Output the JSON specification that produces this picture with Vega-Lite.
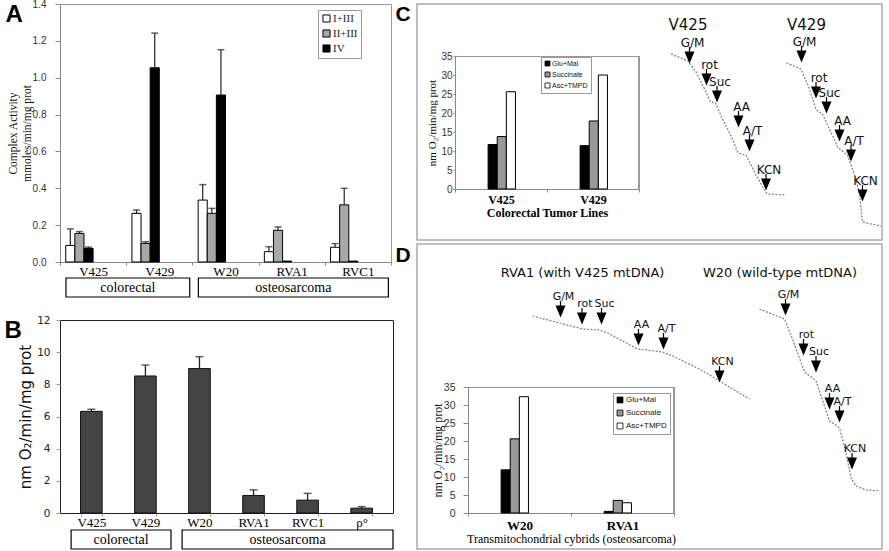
{
  "$schema": "https://vega.github.io/schema/vega-lite/v6.json",
  "background": "white",
  "padding": {"left": 3, "top": -2, "right": 3, "bottom": 0},
  "config": {"view": {"stroke": null}, "font": "Liberation Sans", "axis": {"labelOverlap": false}},
  "datasets": {
    "complexes": [
      {"cell": "V425", "complex": "I+III", "value": 0.09, "hi": 0.18},
      {"cell": "V425", "complex": "II+III", "value": 0.155, "hi": 0.165},
      {"cell": "V425", "complex": "IV", "value": 0.074, "hi": 0.081},
      {"cell": "V429", "complex": "I+III", "value": 0.264, "hi": 0.282},
      {"cell": "V429", "complex": "II+III", "value": 0.101, "hi": 0.11},
      {"cell": "V429", "complex": "IV", "value": 1.054, "hi": 1.242},
      {"cell": "W20", "complex": "I+III", "value": 0.336, "hi": 0.42},
      {"cell": "W20", "complex": "II+III", "value": 0.264, "hi": 0.291},
      {"cell": "W20", "complex": "IV", "value": 0.906, "hi": 1.152},
      {"cell": "RVA1", "complex": "I+III", "value": 0.056, "hi": 0.083},
      {"cell": "RVA1", "complex": "II+III", "value": 0.172, "hi": 0.19},
      {"cell": "RVA1", "complex": "IV", "value": 0.005, "hi": 0.005},
      {"cell": "RVC1", "complex": "I+III", "value": 0.08, "hi": 0.1},
      {"cell": "RVC1", "complex": "II+III", "value": 0.31, "hi": 0.4},
      {"cell": "RVC1", "complex": "IV", "value": 0.005, "hi": 0.005}
    ],
    "respiration": [
      {"cell": "V425", "rate": 6.32, "hi": 6.45},
      {"cell": "V429", "rate": 8.52, "hi": 9.2},
      {"cell": "W20", "rate": 8.98, "hi": 9.72},
      {"cell": "RVA1", "rate": 1.09, "hi": 1.44},
      {"cell": "RVC1", "rate": 0.8, "hi": 1.22},
      {"cell": "ρ°", "rate": 0.3, "hi": 0.4}
    ],
    "a_groups": [
      {"group": "colorectal", "first": "V425", "last": "V429"},
      {"group": "osteosarcoma", "first": "W20", "last": "RVC1"}
    ],
    "b_groups": [
      {"group": "colorectal", "first": "V425", "last": "V429"},
      {"group": "osteosarcoma", "first": "W20", "last": "ρ°"}
    ],
    "c_rates": [
      {"line": "V425", "substrate": "Glu+Mal", "rate": 11.7},
      {"line": "V425", "substrate": "Succinate", "rate": 13.8},
      {"line": "V425", "substrate": "Asc+TMPD", "rate": 25.6},
      {"line": "V429", "substrate": "Glu+Mal", "rate": 11.4},
      {"line": "V429", "substrate": "Succinate", "rate": 17.9},
      {"line": "V429", "substrate": "Asc+TMPD", "rate": 30.0}
    ],
    "d_rates": [
      {"line": "W20", "substrate": "Glu+Mal", "rate": 12.0},
      {"line": "W20", "substrate": "Succinate", "rate": 20.6},
      {"line": "W20", "substrate": "Asc+TMPD", "rate": 32.3},
      {"line": "RVA1", "substrate": "Glu+Mal", "rate": 0.45},
      {"line": "RVA1", "substrate": "Succinate", "rate": 3.5},
      {"line": "RVA1", "substrate": "Asc+TMPD", "rate": 2.85}
    ],
    "c_traces": [
      {"trace": "V425", "t": 508, "o2": 186}, {"trace": "V425", "t": 542, "o2": 179},
      {"trace": "V425", "t": 558, "o2": 168}, {"trace": "V425", "t": 578, "o2": 148},
      {"trace": "V425", "t": 585, "o2": 140}, {"trace": "V425", "t": 588, "o2": 138},
      {"trace": "V425", "t": 597, "o2": 137}, {"trace": "V425", "t": 611, "o2": 121},
      {"trace": "V425", "t": 631, "o2": 101}, {"trace": "V425", "t": 641, "o2": 88},
      {"trace": "V425", "t": 648, "o2": 86}, {"trace": "V425", "t": 658, "o2": 85},
      {"trace": "V425", "t": 678, "o2": 65}, {"trace": "V425", "t": 695, "o2": 50},
      {"trace": "V425", "t": 701, "o2": 46}, {"trace": "V425", "t": 738, "o2": 45},
      {"trace": "V429", "t": 739, "o2": 177}, {"trace": "V429", "t": 768, "o2": 171},
      {"trace": "V429", "t": 785, "o2": 151}, {"trace": "V429", "t": 798, "o2": 131},
      {"trace": "V429", "t": 801, "o2": 129}, {"trace": "V429", "t": 811, "o2": 126},
      {"trace": "V429", "t": 825, "o2": 111}, {"trace": "V429", "t": 841, "o2": 93},
      {"trace": "V429", "t": 848, "o2": 90}, {"trace": "V429", "t": 861, "o2": 85},
      {"trace": "V429", "t": 878, "o2": 61}, {"trace": "V429", "t": 885, "o2": 45},
      {"trace": "V429", "t": 891, "o2": 18}, {"trace": "V429", "t": 898, "o2": 17},
      {"trace": "V429", "t": 928, "o2": 14}
    ],
    "c_events": [
      {"trace": "V425", "event": "G/M", "t": 545, "o2": 183},
      {"trace": "V425", "event": "rot", "t": 579, "o2": 161},
      {"trace": "V425", "event": "Suc", "t": 600, "o2": 144},
      {"trace": "V425", "event": "AA", "t": 643, "o2": 119},
      {"trace": "V425", "event": "A/T", "t": 665, "o2": 95},
      {"trace": "V425", "event": "KCN", "t": 698, "o2": 56},
      {"trace": "V429", "event": "G/M", "t": 769, "o2": 184},
      {"trace": "V429", "event": "rot", "t": 798, "o2": 148},
      {"trace": "V429", "event": "Suc", "t": 819, "o2": 133},
      {"trace": "V429", "event": "AA", "t": 845, "o2": 105},
      {"trace": "V429", "event": "A/T", "t": 868, "o2": 85},
      {"trace": "V429", "event": "KCN", "t": 891, "o2": 45}
    ],
    "c_titles": [
      {"label": "V425", "t": 542, "o2": 215},
      {"label": "V429", "t": 779, "o2": 215}
    ],
    "d_traces": [
      {"trace": "RVA1", "t": 231, "o2": 233}, {"trace": "RVA1", "t": 285, "o2": 226},
      {"trace": "RVA1", "t": 331, "o2": 220}, {"trace": "RVA1", "t": 365, "o2": 219},
      {"trace": "RVA1", "t": 381, "o2": 216}, {"trace": "RVA1", "t": 411, "o2": 208},
      {"trace": "RVA1", "t": 441, "o2": 200}, {"trace": "RVA1", "t": 491, "o2": 197},
      {"trace": "RVA1", "t": 511, "o2": 193}, {"trace": "RVA1", "t": 565, "o2": 180},
      {"trace": "RVA1", "t": 605, "o2": 168}, {"trace": "RVA1", "t": 638, "o2": 158},
      {"trace": "RVA1", "t": 665, "o2": 150},
      {"trace": "W20", "t": 685, "o2": 240}, {"trace": "W20", "t": 735, "o2": 230},
      {"trace": "W20", "t": 751, "o2": 210}, {"trace": "W20", "t": 775, "o2": 177},
      {"trace": "W20", "t": 791, "o2": 171}, {"trace": "W20", "t": 798, "o2": 168},
      {"trace": "W20", "t": 815, "o2": 143}, {"trace": "W20", "t": 825, "o2": 128},
      {"trace": "W20", "t": 835, "o2": 125}, {"trace": "W20", "t": 845, "o2": 121},
      {"trace": "W20", "t": 858, "o2": 96}, {"trace": "W20", "t": 868, "o2": 71},
      {"trace": "W20", "t": 878, "o2": 63}, {"trace": "W20", "t": 898, "o2": 59},
      {"trace": "W20", "t": 925, "o2": 58}
    ],
    "d_events": [
      {"trace": "RVA1", "event": "G/M", "t": 287, "o2": 238},
      {"trace": "RVA1", "event": "rot", "t": 330, "o2": 231},
      {"trace": "RVA1", "event": "Suc", "t": 369, "o2": 231},
      {"trace": "RVA1", "event": "AA", "t": 443, "o2": 210},
      {"trace": "RVA1", "event": "A/T", "t": 493, "o2": 206},
      {"trace": "RVA1", "event": "KCN", "t": 605, "o2": 173},
      {"trace": "W20", "event": "G/M", "t": 737, "o2": 240},
      {"trace": "W20", "event": "rot", "t": 773, "o2": 200},
      {"trace": "W20", "event": "Suc", "t": 798, "o2": 183},
      {"trace": "W20", "event": "AA", "t": 825, "o2": 146},
      {"trace": "W20", "event": "A/T", "t": 845, "o2": 133},
      {"trace": "W20", "event": "KCN", "t": 870, "o2": 86}
    ],
    "d_titles": [
      {"label": "RVA1 (with V425 mtDNA)", "t": 331, "o2": 276},
      {"label": "W20 (wild-type mtDNA)", "t": 726, "o2": 276}
    ]
  },
  "hconcat": [
    {
      "vconcat": [
        {
          "width": 331,
          "height": 258,
          "view": {"stroke": "#999"},
          "layer": [
            {
              "data": {"name": "complexes"},
              "layer": [
                {
                  "mark": {"type": "bar", "stroke": "black", "strokeWidth": 1},
                  "encoding": {
                    "x": {"field": "cell", "type": "nominal", "scale": {"domain": ["V425", "V429", "W20", "RVA1", "RVC1"], "paddingInner": 0, "paddingOuter": 0},
                      "axis": {"title": null, "labelAngle": 0, "labelFont": "Liberation Serif", "labelFontSize": 13, "labelColor": "black", "labelPadding": 0, "tickBand": "extent", "tickSize": 3, "tickColor": "#888", "domainColor": "#888"}},
                    "xOffset": {"field": "complex", "type": "nominal", "scale": {"domain": ["I+III", "II+III", "IV"], "paddingInner": 0, "paddingOuter": 0.63}},
                    "y": {"field": "value", "type": "quantitative", "scale": {"domain": [0, 1.4], "nice": false},
                      "axis": {"values": [0, 0.2, 0.4, 0.6, 0.8, 1.0, 1.2, 1.4], "tickCount": 20, "format": ".1f", "grid": false, "labelOverlap": false, "labelFont": "Liberation Sans", "labelFontSize": 10, "labelColor": "#333", "tickSize": 5, "labelPadding": 9, "tickColor": "#888", "domainColor": "#888",
                        "title": ["Complex Activity", "mmoles/min/mg prot"], "titleFont": "Liberation Serif", "titleFontSize": 11.5, "titleFontWeight": "normal", "titleColor": "#111", "titlePadding": 0, "titleLineHeight": 14}},
                    "color": {"field": "complex", "type": "nominal", "scale": {"domain": ["I+III", "II+III", "IV"], "range": ["white", "#a8a8a8", "black"]},
                      "legend": {"orient": "none", "legendX": 258, "legendY": 6, "title": null, "symbolType": "square", "symbolSize": 50, "symbolStrokeColor": "black", "symbolStrokeWidth": 1, "labelFont": "Liberation Serif", "labelFontSize": 11, "labelColor": "#222", "strokeColor": "#999", "fillColor": "white", "padding": 3, "rowPadding": 2, "labelOffset": 1}}
                  }
                },
                {
                  "transform": [{"filter": "datum.hi > datum.value"}],
                  "mark": {"type": "rule", "color": "#222", "strokeWidth": 1.2},
                  "encoding": {
                    "x": {"field": "cell", "type": "nominal"},
                    "xOffset": {"field": "complex", "type": "nominal"},
                    "y": {"field": "value", "type": "quantitative"},
                    "y2": {"field": "hi"}
                  }
                },
                {
                  "transform": [{"filter": "datum.hi > datum.value"}],
                  "mark": {"type": "tick", "color": "#222", "size": 7, "thickness": 1.5},
                  "encoding": {
                    "x": {"field": "cell", "type": "nominal"},
                    "xOffset": {"field": "complex", "type": "nominal"},
                    "y": {"field": "hi", "type": "quantitative"}
                  }
                }
              ]
            },
            {
              "data": {"name": "a_groups"},
              "layer": [
                {
                  "mark": {"type": "rect", "fill": "white", "stroke": "black", "strokeWidth": 1.2},
                  "encoding": {
                    "x": {"field": "first", "type": "nominal", "bandPosition": 0.09},
                    "x2": {"field": "last", "bandPosition": 0.96},
                    "y": {"datum": 0, "type": "quantitative", "scale": {"domain": [0, 1], "range": [274, 293]},
                      "axis": {"orient": "left", "domain": false, "ticks": false, "labels": false, "grid": false, "title": "A", "titleAngle": 0, "titleX": -55, "titleY": -2, "titleAlign": "left", "titleBaseline": "top", "titleFont": "Liberation Sans", "titleFontSize": 24, "titleFontWeight": "bold", "titleColor": "black"}},
                    "y2": {"datum": 1}
                  }
                },
                {
                  "transform": [{"filter": "datum.group === 'colorectal'"}],
                  "mark": {"type": "text", "font": "Liberation Serif", "fontSize": 14, "baseline": "middle", "color": "black"},
                  "encoding": {
                    "x": {"field": "first", "type": "nominal", "bandPosition": 1.025},
                    "y": {"datum": 0.5, "type": "quantitative"},
                    "text": {"field": "group"}
                  }
                },
                {
                  "transform": [{"filter": "datum.group === 'osteosarcoma'"}],
                  "mark": {"type": "text", "font": "Liberation Serif", "fontSize": 14, "baseline": "middle", "color": "black"},
                  "encoding": {
                    "x": {"field": "first", "type": "nominal", "bandPosition": 1.525},
                    "y": {"datum": 0.5, "type": "quantitative"},
                    "text": {"field": "group"}
                  }
                }
              ]
            }
          ],
          "resolve": {"scale": {"y": "independent"}, "axis": {"y": "independent"}}
        },
        {
          "width": 333,
          "height": 193,
          "view": {"stroke": "#222", "strokeWidth": 1},
          "layer": [
            {
              "data": {"name": "respiration"},
              "layer": [
                {
                  "mark": {"type": "bar", "fill": "#444", "stroke": "#111", "strokeWidth": 1},
                  "encoding": {
                    "x": {"field": "cell", "type": "nominal", "scale": {"domain": ["V425", "V429", "W20", "RVA1", "RVC1", "ρ°"], "paddingInner": 0.6, "paddingOuter": 0.38},
                      "axis": {"title": null, "labelAngle": 0, "labelFont": "Liberation Serif", "labelFontSize": 13, "labelColor": "black", "labelPadding": 0, "tickBand": "extent", "tickSize": 3, "tickColor": "#999", "domain": false}},
                    "y": {"field": "rate", "type": "quantitative", "scale": {"domain": [0, 12], "nice": false},
                      "axis": {"values": [0, 2, 4, 6, 8, 10, 12], "tickCount": 20, "format": "d", "grid": false, "domain": false, "labelOverlap": false, "labelFont": "DejaVu Sans", "labelFontSize": 10.5, "labelColor": "#222", "tickSize": 4, "tickColor": "#999", "labelPadding": 6,
                        "title": "nm O₂/min/mg prot", "titleFont": "DejaVu Sans", "titleFontSize": 15, "titleFontWeight": "normal", "titleColor": "#111", "titlePadding": 3}}
                  }
                },
                {
                  "mark": {"type": "rule", "color": "#222", "strokeWidth": 1.3},
                  "encoding": {
                    "x": {"field": "cell", "type": "nominal"},
                    "y": {"field": "rate", "type": "quantitative"},
                    "y2": {"field": "hi"}
                  }
                },
                {
                  "mark": {"type": "tick", "color": "#222", "size": 8, "thickness": 1.5},
                  "encoding": {
                    "x": {"field": "cell", "type": "nominal"},
                    "y": {"field": "hi", "type": "quantitative"}
                  }
                }
              ]
            },
            {
              "data": {"name": "b_groups"},
              "layer": [
                {
                  "mark": {"type": "rect", "fill": "white", "stroke": "black", "strokeWidth": 1.2},
                  "encoding": {
                    "x": {"field": "first", "type": "nominal", "bandPosition": 0.2, "scale": {"domain": ["V425", "V429", "W20", "RVA1", "RVC1", "ρ°"], "paddingInner": 0, "paddingOuter": 0}, "axis": null},
                    "x2": {"field": "last", "bandPosition": 1.0},
                    "y": {"datum": 0, "type": "quantitative", "scale": {"domain": [0, 1], "range": [210, 229]},
                      "axis": {"orient": "left", "domain": false, "ticks": false, "labels": false, "grid": false, "title": "B", "titleAngle": 0, "titleX": -56, "titleY": -2, "titleAlign": "left", "titleBaseline": "top", "titleFont": "Liberation Sans", "titleFontSize": 24, "titleFontWeight": "bold", "titleColor": "black"}},
                    "y2": {"datum": 1}
                  }
                },
                {
                  "transform": [{"filter": "datum.group === 'colorectal'"}],
                  "mark": {"type": "text", "font": "Liberation Serif", "fontSize": 14, "baseline": "middle", "color": "black"},
                  "encoding": {
                    "x": {"field": "first", "type": "nominal", "bandPosition": 1.1},
                    "y": {"datum": 0.5, "type": "quantitative"},
                    "text": {"field": "group"}
                  }
                },
                {
                  "transform": [{"filter": "datum.group === 'osteosarcoma'"}],
                  "mark": {"type": "text", "font": "Liberation Serif", "fontSize": 14, "baseline": "middle", "color": "black"},
                  "encoding": {
                    "x": {"field": "first", "type": "nominal", "bandPosition": 2.1},
                    "y": {"datum": 0.5, "type": "quantitative"},
                    "text": {"field": "group"}
                  }
                }
              ]
            }
          ],
          "resolve": {"scale": {"x": "independent", "y": "independent"}, "axis": {"x": "independent", "y": "independent"}}
        }
      ],
      "spacing": 58,
      "bounds": "flush",
      "resolve": {"scale": {"color": "independent"}}
    },
    {
      "vconcat": [
        {
          "width": 465,
          "height": 236,
          "view": {"stroke": "#aaa", "strokeWidth": 1.5},
          "layer": [
            {
              "data": {"name": "c_rates"},
              "layer": [
                {
                  "mark": {"type": "bar", "stroke": "black", "strokeWidth": 1},
                  "encoding": {
                    "x": {"field": "line", "type": "nominal", "scale": {"domain": ["V425", "V429"], "range": [38, 222], "paddingInner": 0, "paddingOuter": 0},
                      "axis": {"orient": "bottom", "offset": -51, "title": "Colorectal Tumor Lines", "titleFont": "Liberation Serif", "titleFontSize": 12, "titleFontWeight": "bold", "titleColor": "black", "titlePadding": 2,
                        "labelFont": "Liberation Serif", "labelFontSize": 12, "labelFontWeight": "bold", "labelColor": "black", "labelAngle": 0, "labelPadding": 2, "tickBand": "extent", "tickSize": 3, "tickColor": "#888", "domainColor": "#888"}},
                    "xOffset": {"field": "substrate", "type": "nominal", "scale": {"domain": ["Glu+Mal", "Succinate", "Asc+TMPD"], "paddingInner": 0, "paddingOuter": 0.8}},
                    "y": {"field": "rate", "type": "quantitative", "scale": {"domain": [0, 35], "range": [185, 52], "nice": false},
                      "axis": {"orient": "left", "offset": -38, "values": [0, 5, 10, 15, 20, 25, 30, 35], "tickCount": 20, "format": "d", "labelOverlap": false, "grid": true, "gridColor": {"condition": {"test": "datum.value === 35", "value": "#999"}, "value": "rgba(0,0,0,0)"},
                        "labelFont": "Liberation Sans", "labelFontSize": 10, "labelColor": "#333", "tickSize": 2, "labelPadding": 1, "tickColor": "#888", "domainColor": "#888",
                        "title": "nm O₂/min/mg prot", "titleFont": "Liberation Serif", "titleFontSize": 11, "titleFontWeight": "normal", "titleColor": "#111", "titlePadding": 3}},
                    "color": {"field": "substrate", "type": "nominal", "scale": {"domain": ["Glu+Mal", "Succinate", "Asc+TMPD"], "range": ["black", "#999", "white"]},
                      "legend": {"orient": "none", "legendX": 124, "legendY": 53, "title": null, "symbolType": "square", "symbolSize": 25, "symbolStrokeColor": "black", "symbolStrokeWidth": 0.8, "labelFont": "Liberation Sans", "labelFontSize": 7, "labelColor": "#111", "strokeColor": "#999", "fillColor": "white", "padding": 3, "rowPadding": 2, "labelOffset": 1}}
                  }
                },
                {
                  "mark": {"type": "rule", "color": "#999"},
                  "encoding": {
                    "x": {"datum": "V429", "type": "nominal", "bandPosition": 1},
                    "y": {"datum": 0, "type": "quantitative"},
                    "y2": {"datum": 35}
                  }
                }
              ]
            },
            {
              "layer": [
                {
                  "data": {"name": "c_traces"},
                  "mark": {"type": "line", "color": "#808080", "strokeWidth": 1.2, "strokeDash": [2, 1.5]},
                  "encoding": {
                    "x": {"field": "t", "type": "quantitative", "scale": {"domain": [0, 930], "nice": false, "zero": false}, "axis": null},
                    "y": {"field": "o2", "type": "quantitative", "scale": {"domain": [0, 236], "nice": false, "zero": false},
                      "axis": {"orient": "left", "domain": false, "ticks": false, "labels": false, "grid": false, "title": "C", "titleAngle": 0, "titleX": -22, "titleY": -1, "titleAlign": "left", "titleBaseline": "top", "titleFont": "Liberation Sans", "titleFontSize": 21, "titleFontWeight": "bold", "titleColor": "black"}},
                    "detail": {"field": "trace"}
                  }
                },
                {
                  "data": {"name": "c_events"},
                  "mark": {"type": "point", "shape": "M-0.06,-1L0.06,-1L0.06,-0.55L0.5,-0.55L0,0.65L-0.5,-0.55L-0.06,-0.55Z", "size": 400, "filled": true, "color": "black", "opacity": 1},
                  "encoding": {
                    "x": {"field": "t", "type": "quantitative"},
                    "y": {"field": "o2", "type": "quantitative"}
                  }
                },
                {
                  "data": {"name": "c_events"},
                  "mark": {"type": "text", "font": "DejaVu Sans", "fontSize": 12, "dx": 3, "dy": -14, "baseline": "middle", "align": "center", "color": "#111"},
                  "encoding": {
                    "x": {"field": "t", "type": "quantitative"},
                    "y": {"field": "o2", "type": "quantitative"},
                    "text": {"field": "event"}
                  }
                },
                {
                  "data": {"name": "c_titles"},
                  "mark": {"type": "text", "font": "DejaVu Sans", "fontSize": 15, "baseline": "middle", "align": "center", "color": "#111"},
                  "encoding": {
                    "x": {"field": "t", "type": "quantitative"},
                    "y": {"field": "o2", "type": "quantitative"},
                    "text": {"field": "label"}
                  }
                }
              ]
            }
          ],
          "resolve": {"scale": {"x": "independent", "y": "independent"}, "axis": {"x": "independent", "y": "independent"}}
        },
        {
          "width": 465,
          "height": 305,
          "view": {"stroke": "#aaa", "strokeWidth": 1.5},
          "layer": [
            {
              "data": {"name": "d_rates"},
              "layer": [
                {
                  "mark": {"type": "bar", "stroke": "black", "strokeWidth": 1},
                  "encoding": {
                    "x": {"field": "line", "type": "nominal", "scale": {"domain": ["W20", "RVA1"], "range": [51, 257], "paddingInner": 0, "paddingOuter": 0},
                      "axis": {"orient": "bottom", "offset": -36, "title": "Transmitochondrial cybrids (osteosarcoma)", "titleFont": "Liberation Serif", "titleFontSize": 12, "titleFontWeight": "normal", "titleColor": "black", "titlePadding": 1,
                        "labelFont": "Liberation Serif", "labelFontSize": 13, "labelFontWeight": "bold", "labelColor": "black", "labelAngle": 0, "labelPadding": 3, "tickBand": "extent", "tickSize": 3, "tickColor": "#888", "domainColor": "#888"}},
                    "xOffset": {"field": "substrate", "type": "nominal", "scale": {"domain": ["Glu+Mal", "Succinate", "Asc+TMPD"], "paddingInner": 0, "paddingOuter": 0.71}},
                    "y": {"field": "rate", "type": "quantitative", "scale": {"domain": [0, 35], "range": [269, 143], "nice": false},
                      "axis": {"orient": "left", "offset": -51, "values": [0, 5, 10, 15, 20, 25, 30, 35], "tickCount": 20, "format": "d", "labelOverlap": false, "grid": true, "gridColor": {"condition": {"test": "datum.value === 35", "value": "#999"}, "value": "rgba(0,0,0,0)"},
                        "labelFont": "Liberation Sans", "labelFontSize": 10.5, "labelColor": "#333", "tickSize": 5, "labelPadding": 8, "tickColor": "#888", "domainColor": "#888",
                        "title": "nm O₂/min/mg prot", "titleFont": "Liberation Serif", "titleFontSize": 12, "titleFontWeight": "normal", "titleColor": "#111", "titlePadding": -1}},
                    "color": {"field": "substrate", "type": "nominal", "scale": {"domain": ["Glu+Mal", "Succinate", "Asc+TMPD"], "range": ["black", "#999", "white"]},
                      "legend": {"orient": "none", "legendX": 196, "legendY": 149, "title": null, "symbolType": "square", "symbolSize": 35, "symbolStrokeColor": "black", "symbolStrokeWidth": 0.8, "labelFont": "Liberation Sans", "labelFontSize": 8, "labelColor": "#111", "strokeColor": "#999", "fillColor": "white", "padding": 3, "rowPadding": 3, "labelOffset": 2}}
                  }
                },
                {
                  "mark": {"type": "rule", "color": "#999"},
                  "encoding": {
                    "x": {"datum": "RVA1", "type": "nominal", "bandPosition": 1},
                    "y": {"datum": 0, "type": "quantitative"},
                    "y2": {"datum": 35}
                  }
                }
              ]
            },
            {
              "layer": [
                {
                  "data": {"name": "d_traces"},
                  "mark": {"type": "line", "color": "#808080", "strokeWidth": 1.2, "strokeDash": [2, 1.5]},
                  "encoding": {
                    "x": {"field": "t", "type": "quantitative", "scale": {"domain": [0, 930], "nice": false, "zero": false}, "axis": null},
                    "y": {"field": "o2", "type": "quantitative", "scale": {"domain": [0, 305], "nice": false, "zero": false},
                      "axis": {"orient": "left", "domain": false, "ticks": false, "labels": false, "grid": false, "title": "D", "titleAngle": 0, "titleX": -22, "titleY": 0, "titleAlign": "left", "titleBaseline": "top", "titleFont": "Liberation Sans", "titleFontSize": 21, "titleFontWeight": "bold", "titleColor": "black"}},
                    "detail": {"field": "trace"}
                  }
                },
                {
                  "data": {"name": "d_events"},
                  "mark": {"type": "point", "shape": "M-0.06,-1L0.06,-1L0.06,-0.55L0.5,-0.55L0,0.65L-0.5,-0.55L-0.06,-0.55Z", "size": 400, "filled": true, "color": "black", "opacity": 1},
                  "encoding": {
                    "x": {"field": "t", "type": "quantitative"},
                    "y": {"field": "o2", "type": "quantitative"}
                  }
                },
                {
                  "data": {"name": "d_events"},
                  "mark": {"type": "text", "font": "DejaVu Sans", "fontSize": 11, "dx": 3, "dy": -14, "baseline": "middle", "align": "center", "color": "#111"},
                  "encoding": {
                    "x": {"field": "t", "type": "quantitative"},
                    "y": {"field": "o2", "type": "quantitative"},
                    "text": {"field": "event"}
                  }
                },
                {
                  "data": {"name": "d_titles"},
                  "mark": {"type": "text", "font": "DejaVu Sans", "fontSize": 13, "baseline": "middle", "align": "center", "color": "#111"},
                  "encoding": {
                    "x": {"field": "t", "type": "quantitative"},
                    "y": {"field": "o2", "type": "quantitative"},
                    "text": {"field": "label"}
                  }
                }
              ]
            }
          ],
          "resolve": {"scale": {"x": "independent", "y": "independent"}, "axis": {"x": "independent", "y": "independent"}}
        }
      ],
      "spacing": 4,
      "bounds": "flush",
      "resolve": {"scale": {"color": "independent"}}
    }
  ],
  "spacing": -1,
  "resolve": {"scale": {"color": "independent"}}
}
